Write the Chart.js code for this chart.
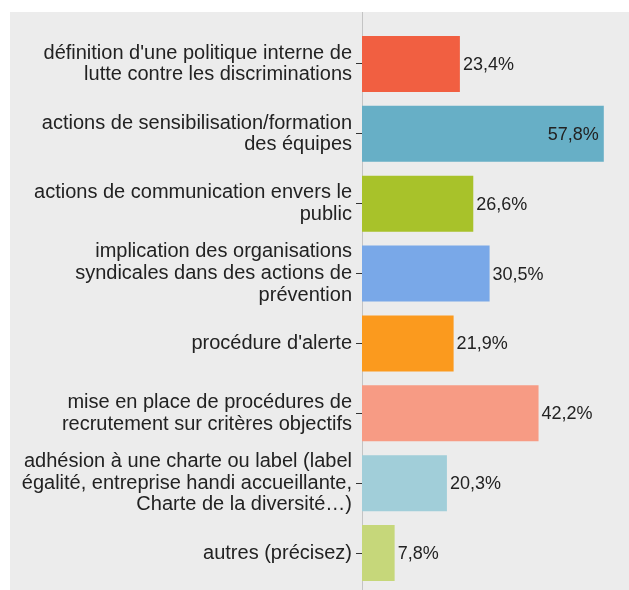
<!DOCTYPE html>
<html>
<head>
<meta charset="utf-8">
<script src="https://cdn.jsdelivr.net/npm/chart.js@4.4.1/dist/chart.umd.min.js"></script>
<style>
  body { margin: 0; background: #fff; }
  #wrap { position: absolute; left: 10px; top: 12px; width: 619px; height: 578px; background: #ececec; }
</style>
</head>
<body>
<div id="wrap"><canvas id="chart" width="619" height="578"></canvas></div>
<script>
var categories = [
    ["définition d'une politique interne de", "lutte contre les discriminations"],
    ["actions de sensibilisation/formation", "des équipes"],
    ["actions de communication envers le", "public"],
    ["implication des organisations", "syndicales dans des actions de", "prévention"],
    "procédure d'alerte",
    ["mise en place de procédures de", "recrutement sur critères objectifs"],
    ["adhésion à une charte ou label (label", "égalité, entreprise handi accueillante,", "Charte de la diversité…)"],
    "autres (précisez)"
];
var values = [23.4, 57.8, 26.6, 30.5, 21.9, 42.2, 20.3, 7.8];
var colors = ["#f15f41", "#67afc6", "#a8c22a", "#79a8e8", "#fb9a1e", "#f79b84", "#a1ced9", "#c6d77a"];

function fmt(v) {
    return v.toFixed(1).replace(".", ",") + "%";
}

// value labels next to (or inside) the bars
var valueLabels = {
    id: "valueLabels",
    afterDatasetsDraw: function(chart) {
        var ctx = chart.ctx;
        var meta = chart.getDatasetMeta(0);
        ctx.save();
        ctx.font = "18px 'Liberation Sans', Arial, sans-serif";
        ctx.fillStyle = "#222";
        ctx.textBaseline = "middle";
        meta.data.forEach(function(bar, i) {
            var txt = fmt(values[i]);
            var w = ctx.measureText(txt).width;
            if (bar.x + 3 + w > chart.width) {
                ctx.textAlign = "right";
                ctx.fillText(txt, bar.x - 5, bar.y + 1);
            } else {
                ctx.textAlign = "left";
                ctx.fillText(txt, bar.x + 3, bar.y + 1);
            }
        });
        ctx.restore();
    }
};

// axis line over the whole panel height
var axisLine = {
    id: "axisLine",
    beforeDatasetsDraw: function(chart) {
        var ctx = chart.ctx;
        var x = Math.round(chart.chartArea.left) + 0.5;
        ctx.save();
        ctx.strokeStyle = "#c4c4c4";
        ctx.lineWidth = 1;
        ctx.beginPath();
        ctx.moveTo(x, 0);
        ctx.lineTo(x, chart.height);
        ctx.stroke();
        ctx.restore();
    }
};

new Chart(document.getElementById("chart"), {
    type: "bar",
    data: {
        labels: categories,
        datasets: [{
            data: values,
            backgroundColor: colors,
            borderWidth: 0,
            barPercentage: 0.8,
            categoryPercentage: 1
        }]
    },
    options: {
        indexAxis: "y",
        responsive: false,
        animation: false,
        layout: { padding: { top: 17, bottom: 2, left: 0, right: 16 } },
        plugins: { legend: { display: false }, tooltip: { enabled: false } },
        scales: {
            x: { display: false, min: 0, max: 60 },
            y: {
                afterFit: function(scale) {
                    scale.width = 352;
                    scale.paddingTop = 0;
                    scale.paddingBottom = 0;
                },
                border: { display: false },
                grid: { drawOnChartArea: false, offset: false, color: "#333", tickLength: 6 },
                ticks: {
                    padding: 4,
                    color: "#222",
                    font: { family: "'Liberation Sans', Arial, sans-serif", size: 20, lineHeight: 1.08 }
                }
            }
        }
    },
    plugins: [axisLine, valueLabels]
});
</script>
</body>
</html>
